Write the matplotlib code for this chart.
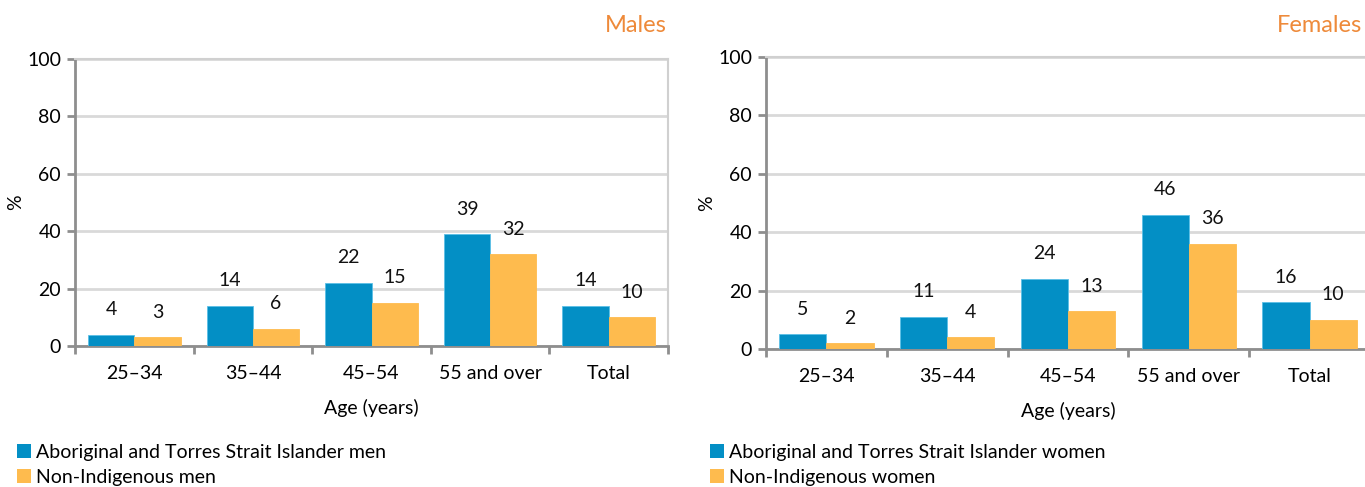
import numpy as np
import matplotlib
matplotlib.use("Agg")
import matplotlib.pyplot as plt
from matplotlib.patches import Patch

plt.rcParams['font.family'] = ['Lato', 'DejaVu Sans']

# data (per cent, age-standardised totals)
age_groups = ['25–34', '35–44', '45–54', '55 and over', 'Total']
males_indig = [4, 14, 22, 39, 14]
males_non = [3, 6, 15, 32, 10]
females_indig = [5, 11, 24, 46, 16]
females_non = [2, 4, 13, 36, 10]

BLUE = '#038FC5'
ORANGE = '#FEBB4E'
GRID = '#D9D9D9'
SPINE = '#8E8E8E'
HEAD = '#EE8A3A'
FS = 14


def draw_panel(ax, indig, non):
    x = np.arange(len(age_groups))
    w = 0.39
    b1 = ax.bar(x - w / 2, indig, w, color=BLUE, edgecolor='#5CC0E6', linewidth=0.6, zorder=3)
    b2 = ax.bar(x + w / 2, non, w, color=ORANGE, edgecolor=ORANGE, linewidth=0.6, zorder=3)
    for bars, vals in ((b1, indig), (b2, non)):
        for r, v in zip(bars, vals):
            ax.annotate(str(v), (r.get_x() + r.get_width() / 2, v),
                        xytext=(0, 18), textcoords='offset points',
                        ha='center', va='center', fontsize=FS, color='#111111')

    ax.set_xlim(-0.5, len(age_groups) - 0.5)
    ax.set_ylim(0, 100)
    ax.set_yticks(range(0, 101, 20))
    ax.yaxis.grid(True, color=GRID, linewidth=2, zorder=0)
    ax.set_axisbelow(True)

    ax.set_xticks(x)
    ax.set_xticklabels(age_groups)
    ax.set_xticks(np.arange(-0.5, len(age_groups), 1), minor=True)
    ax.tick_params(axis='x', which='major', length=0, pad=14, labelsize=FS)
    ax.tick_params(axis='x', which='minor', length=6, width=2, color=SPINE)
    ax.tick_params(axis='y', length=6, width=2, color=SPINE, pad=4, labelsize=FS)

    for s in ('left', 'bottom'):
        ax.spines[s].set_color(SPINE)
        ax.spines[s].set_linewidth(2)
    for s in ('top', 'right'):
        ax.spines[s].set_color('#D0D0D0')
        ax.spines[s].set_linewidth(1.5)

    ax.set_xlabel('Age (years)', fontsize=FS, labelpad=12)
    ax.set_ylabel('%', fontsize=FS, labelpad=2)

    return [Patch(facecolor=BLUE), Patch(facecolor=ORANGE)]


fig = plt.figure(figsize=(13.65, 4.87), dpi=100)
ax1 = fig.add_axes([75 / 1365, 141 / 487, 593 / 1365, 287 / 487])
ax2 = fig.add_axes([766 / 1365, 138 / 487, 604 / 1365, 292 / 487])

h1 = draw_panel(ax1, males_indig, males_non)
h2 = draw_panel(ax2, females_indig, females_non)

fig.text(667 / 1365, 1 - 25 / 487, 'Males', ha='right', va='center', fontsize=17, color=HEAD)
fig.text(1362 / 1365, 1 - 25 / 487, 'Females', ha='right', va='center', fontsize=17, color=HEAD)

leg_kw = dict(frameon=False, fontsize=FS, handlelength=0.7, handleheight=0.7,
              handletextpad=0.3, labelspacing=0.4, borderaxespad=0, borderpad=0)
fig.legend(h1, ['Aboriginal and Torres Strait Islander men', 'Non-Indigenous men'],
           loc='upper left', bbox_to_anchor=(17 / 1365, 1 - 444 / 487), **leg_kw)
fig.legend(h2, ['Aboriginal and Torres Strait Islander women', 'Non-Indigenous women'],
           loc='upper left', bbox_to_anchor=(710 / 1365, 1 - 444 / 487), **leg_kw)

fig.savefig('out.png', dpi=100)
